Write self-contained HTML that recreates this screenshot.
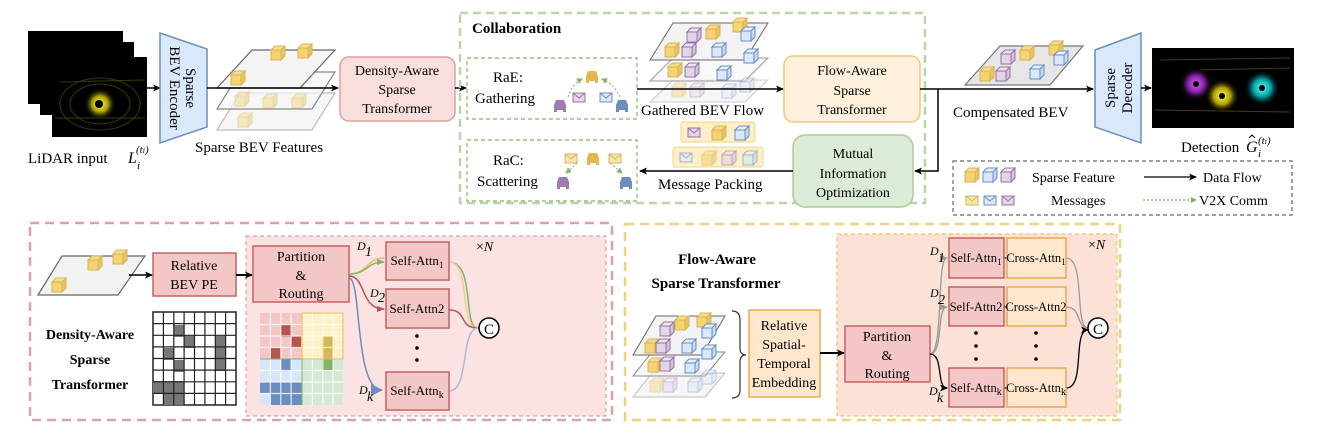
<!DOCTYPE html>
<html><head><meta charset="utf-8"><style>
body{margin:0;background:#fff;}
svg{display:block;font-family:"Liberation Serif",serif;}
</style></head><body>
<svg width="1322" height="442" viewBox="0 0 1322 442" xmlns="http://www.w3.org/2000/svg">
<defs>
<g id="cy"><path d="M0 4 L4 0 L14 0 L10 4Z" fill="#f7dc8c" stroke="#d6b656"/><path d="M10 4 L14 0 L14 10 L10 14Z" fill="#e8c45e" stroke="#d6b656"/><rect x="0" y="4" width="10" height="10" fill="#f5d372" stroke="#d6b656"/></g>
<g id="cb"><path d="M0 4 L4 0 L14 0 L10 4Z" fill="#e6effc" stroke="#6c8ebf"/><path d="M10 4 L14 0 L14 10 L10 14Z" fill="#c5d8f5" stroke="#6c8ebf"/><rect x="0" y="4" width="10" height="10" fill="#dae8fc" stroke="#6c8ebf"/></g>
<g id="cp"><path d="M0 4 L4 0 L14 0 L10 4Z" fill="#eee3f2" stroke="#9673a6"/><path d="M10 4 L14 0 L14 10 L10 14Z" fill="#d3c0dc" stroke="#9673a6"/><rect x="0" y="4" width="10" height="10" fill="#e1d5e7" stroke="#9673a6"/></g>
<g id="env"><rect x="0" y="0" width="12" height="9" fill="#f5e6b0" stroke="#d6b656"/><path d="M0 0 L6 5 L12 0" fill="none" stroke="#d6b656"/></g>
<g id="envb"><rect x="0" y="0" width="12" height="9" fill="#dae8fc" stroke="#6c8ebf"/><path d="M0 0 L6 5 L12 0" fill="none" stroke="#6c8ebf"/></g>
<g id="envp"><rect x="0" y="0" width="12" height="9" fill="#e1d5e7" stroke="#9673a6"/><path d="M0 0 L6 5 L12 0" fill="none" stroke="#9673a6"/></g>
<g id="car"><path d="M1 6 L3 1 L11 1 L13 6 L13 11 L1 11Z" /><rect x="1" y="11" width="3" height="2"/><rect x="10" y="11" width="3" height="2"/></g>
<marker id="ar" markerWidth="8" markerHeight="8" refX="7" refY="4" orient="auto" markerUnits="userSpaceOnUse"><path d="M0 0.5 L8 4 L0 7.5 L2 4Z" fill="#000"/></marker>
<marker id="arg" markerWidth="6" markerHeight="6" refX="5" refY="3" orient="auto" markerUnits="userSpaceOnUse"><path d="M0 0 L6 3 L0 6Z" fill="#82b366"/></marker>
<marker id="arr" markerWidth="8" markerHeight="8" refX="7" refY="4" orient="auto" markerUnits="userSpaceOnUse"><path d="M0 1 L8 4 L0 7Z" fill="#b85450"/></marker>
<marker id="ary" markerWidth="8" markerHeight="8" refX="7" refY="4" orient="auto" markerUnits="userSpaceOnUse"><path d="M0 1 L8 4 L0 7Z" fill="#82b366"/></marker>
<marker id="arb" markerWidth="12" markerHeight="12" refX="11" refY="6" orient="auto" markerUnits="userSpaceOnUse"><path d="M0 0 L12 6 L0 12Z" fill="#6c8ebf"/></marker>
<marker id="argr" markerWidth="8" markerHeight="8" refX="7" refY="4" orient="auto" markerUnits="userSpaceOnUse"><path d="M0 1 L8 4 L0 7Z" fill="#999"/></marker>
<radialGradient id="gy"><stop offset="0" stop-color="#ffff60"/><stop offset="0.5" stop-color="#b0a000"/><stop offset="1" stop-color="#000" stop-opacity="0"/></radialGradient>
<radialGradient id="gp"><stop offset="0" stop-color="#e060ff"/><stop offset="0.5" stop-color="#8020a0"/><stop offset="1" stop-color="#000" stop-opacity="0"/></radialGradient>
<radialGradient id="gc"><stop offset="0" stop-color="#60ffff"/><stop offset="0.5" stop-color="#00a0a0"/><stop offset="1" stop-color="#000" stop-opacity="0"/></radialGradient>
</defs>

<!-- LiDAR -->
<rect x="28" y="31" width="95" height="73" fill="#000"/>
<rect x="40" y="42" width="94" height="73" fill="#000"/>
<rect x="52" y="57" width="95" height="80" fill="#000"/>
<g stroke="#3a3a00" fill="none"><ellipse cx="100" cy="104" rx="30" ry="20"/><ellipse cx="100" cy="104" rx="40" ry="26"/><path d="M60 82 L145 80 M55 118 L145 118"/></g>
<circle cx="100" cy="104" r="16" fill="url(#gy)"/><circle cx="99" cy="104" r="4" fill="#000"/>
<text x="28" y="163" font-size="15">LiDAR input</text>
<text x="128" y="163" font-size="16" font-style="italic">L</text><text x="137" y="169" font-size="11" font-style="italic">i</text><text x="136" y="153" font-size="11" font-style="italic">(t<tspan font-size="8">i</tspan>)</text>
<line x1="147" y1="88" x2="160" y2="88" stroke="#000" stroke-width="1.5" marker-end="url(#ar)"/>
<!-- Encoder -->
<path d="M160 33 L207 49 L207 127 L160 143Z" fill="#dae8fc" stroke="#6c8ebf" stroke-width="1.5"/>
<text transform="translate(186,88) rotate(90)" text-anchor="middle" font-size="15">Sparse</text>
<text transform="translate(170,88) rotate(90)" text-anchor="middle" font-size="15">BEV Encoder</text>
<!-- BEV features -->
<path d="M217 130 L240 93 L335 93 L312 130Z" fill="#f6f6f6" stroke="#bbb" stroke-width="1.2"/>
<path d="M217 109 L240 72 L335 72 L312 109Z" fill="#f6f6f6" fill-opacity="0.7" stroke="#888" stroke-width="1.2"/>
<path d="M217 88 L252 50 L335 50 L300 88Z" fill="#f4f4f4" stroke="#666" stroke-width="1.2"/>
<use href="#cy" x="231" y="71"/><use href="#cy" x="271" y="46"/><use href="#cy" x="298" y="44"/>
<g opacity="0.45"><use href="#cy" x="235" y="92"/><use href="#cy" x="263" y="94"/><use href="#cy" x="292" y="94"/><use href="#cy" x="238" y="113"/></g>
<line x1="207" y1="88" x2="338" y2="88" stroke="#000" stroke-width="1.5" marker-end="url(#ar)"/>
<text x="195" y="152" font-size="15">Sparse BEV Features</text>
<!-- Density box -->
<rect x="340" y="57" width="115" height="64" rx="9" fill="#f9dede" stroke="#dea0a0" stroke-width="1.5"/>
<g font-size="14" text-anchor="middle"><text x="397" y="75">Density-Aware</text><text x="397" y="94">Sparse</text><text x="397" y="113">Transformer</text></g>
<line x1="455" y1="88" x2="466" y2="88" stroke="#000" stroke-width="1.5" marker-end="url(#ar)"/>

<!-- Collaboration -->
<rect x="460" y="13" width="465" height="190" fill="none" stroke="#b9d5a8" stroke-width="2.5" stroke-dasharray="8,5"/>
<text x="472" y="33" font-size="15" font-weight="bold">Collaboration</text>
<rect x="467" y="58" width="170" height="61" fill="none" stroke="#82b366" stroke-width="1.2" stroke-dasharray="4,3"/>
<text x="493" y="82" font-size="15">RaE:</text><text x="475" y="103" font-size="15">Gathering</text>
<use href="#car" x="585" y="70" fill="#e0b84e"/><use href="#car" x="553" y="99" fill="#a07bb0"/><use href="#car" x="615" y="99" fill="#6c8ebf"/>
<use href="#envp" x="573" y="93"/><use href="#envb" x="600" y="93"/>
<g stroke="#82b366" stroke-dasharray="2,2" fill="none"><path d="M568 97 Q572 84 582 79" marker-end="url(#arg)"/><path d="M620 97 Q614 84 602 79" marker-end="url(#arg)"/></g>
<rect x="467" y="140" width="170" height="61" fill="none" stroke="#82b366" stroke-width="1.2" stroke-dasharray="4,3"/>
<text x="493" y="165" font-size="15">RaC:</text><text x="477" y="186" font-size="15">Scattering</text>
<use href="#car" x="586" y="152" fill="#e0b84e"/><use href="#car" x="556" y="176" fill="#a07bb0"/><use href="#car" x="619" y="176" fill="#6c8ebf"/>
<use href="#env" x="565" y="154"/><use href="#env" x="609" y="154"/>
<g stroke="#82b366" stroke-dasharray="2,2" fill="none"><path d="M577 163 Q572 168 566 173" marker-end="url(#arg)"/><path d="M610 163 Q616 168 622 173" marker-end="url(#arg)"/></g>
<!-- Gathered flow -->
<path d="M650 102 L673 80 L768 80 L745 102Z" fill="#f6f6f6" stroke="#ccc"/>
<path d="M650 81 L673 58 L768 58 L745 81Z" fill="#f6f6f6" fill-opacity="0.7" stroke="#999"/>
<path d="M650 60 L673 23 L768 23 L745 60Z" fill="#f3f3f3" stroke="#666"/>
<use href="#cp" x="687" y="28"/><use href="#cy" x="706" y="25"/><use href="#cy" x="733" y="18"/><use href="#cb" x="741" y="27"/>
<use href="#cy" x="665" y="43"/><use href="#cp" x="682" y="43"/><use href="#cb" x="712" y="43"/><use href="#cb" x="744" y="49"/>
<use href="#cy" x="668" y="63"/><use href="#cp" x="685" y="63"/><use href="#cb" x="717" y="66"/>
<g opacity="0.4"><use href="#cy" x="672" y="83"/><use href="#cp" x="690" y="83"/><use href="#cb" x="722" y="84"/><use href="#cb" x="740" y="78"/></g>
<text x="641" y="115" font-size="15">Gathered BEV Flow</text>
<line x1="637" y1="89" x2="783" y2="89" stroke="#000" stroke-width="1.5" marker-end="url(#ar)"/>
<rect x="784" y="56" width="136" height="66" rx="9" fill="#fff0dc" stroke="#f0c878" stroke-width="1.5"/>
<g font-size="14" text-anchor="middle"><text x="852" y="75">Flow-Aware</text><text x="852" y="95">Sparse</text><text x="852" y="114">Transformer</text></g>
<rect x="793" y="135" width="120" height="72" rx="12" fill="#dcebd5" stroke="#a9cd98" stroke-width="1.5"/>
<g font-size="14" text-anchor="middle"><text x="853" y="158">Mutual</text><text x="853" y="178">Information</text><text x="853" y="197">Optimization</text></g>
<path d="M920 89 L1093 89" stroke="#000" stroke-width="1.5" fill="none" marker-end="url(#ar)"/>
<path d="M938 89 L938 171 L915 171" stroke="#000" stroke-width="1.5" fill="none" marker-end="url(#ar)"/>
<line x1="793" y1="171" x2="640" y2="171" stroke="#000" stroke-width="1.5" marker-end="url(#ar)"/>
<rect x="681" y="122" width="74" height="20" rx="2" fill="#fdf0c8" stroke="#f3d58a"/>
<rect x="673" y="147" width="90" height="20" rx="2" fill="#fdf0c8" stroke="#f3d58a"/>
<use href="#envp" x="688" y="128"/><use href="#cy" x="712" y="126"/><use href="#cb" x="735" y="126"/>
<g opacity="0.6"><use href="#envb" x="680" y="153"/><use href="#cy" x="702" y="151"/><use href="#cp" x="722" y="151"/><use href="#cb" x="743" y="151"/></g>
<text x="658" y="189" font-size="15">Message Packing</text>

<!-- Compensated BEV -->
<path d="M965 85 L1000 46 L1083 46 L1050 85Z" fill="#e6e6e6" stroke="#777" stroke-width="1.2"/>
<use href="#cp" x="1001" y="50"/><use href="#cy" x="1020" y="46"/><use href="#cy" x="1049" y="41"/><use href="#cb" x="1054" y="51"/>
<use href="#cy" x="980" y="67"/><use href="#cp" x="996" y="67"/><use href="#cb" x="1030" y="65"/>
<text x="953" y="117" font-size="15">Compensated BEV</text>
<path d="M1095 50 L1141 33 L1141 143 L1095 127Z" fill="#dae8fc" stroke="#6c8ebf" stroke-width="1.5"/>
<text transform="translate(1115,88) rotate(-90)" text-anchor="middle" font-size="15">Sparse</text>
<text transform="translate(1132,88) rotate(-90)" text-anchor="middle" font-size="15">Decoder</text>
<line x1="1141" y1="88" x2="1151" y2="88" stroke="#000" stroke-width="1.5" marker-end="url(#ar)"/>
<rect x="1152" y="48" width="142" height="80" fill="#000"/>
<g stroke="#4a3a10" fill="none"><path d="M1160 60 L1290 58 M1200 70 L1290 68 M1155 110 L1290 112"/></g>
<circle cx="1196" cy="84" r="17" fill="url(#gp)"/><circle cx="1222" cy="96" r="17" fill="url(#gy)"/><circle cx="1262" cy="88" r="18" fill="url(#gc)"/>
<circle cx="1196" cy="84" r="3" fill="#000"/><circle cx="1222" cy="96" r="3" fill="#000"/><circle cx="1262" cy="88" r="3" fill="#000"/>
<text x="1181" y="152" font-size="15">Detection</text>
<text x="1246" y="152" font-size="16" font-style="italic">G</text><path d="M1249 138 L1252 135 L1255 138" stroke="#000" fill="none"/><text x="1258" y="157" font-size="11" font-style="italic">i</text><text x="1258" y="144" font-size="11" font-style="italic">(t<tspan font-size="8">i</tspan>)</text>
<!-- Legend -->
<rect x="953" y="161" width="339" height="54" fill="none" stroke="#666" stroke-width="1.2" stroke-dasharray="4,3"/>
<use href="#cy" x="965" y="168"/><use href="#cb" x="983" y="168"/><use href="#cp" x="1001" y="168"/>
<use href="#env" x="966" y="196"/><use href="#envb" x="984" y="196"/><use href="#envp" x="1002" y="196"/>
<text x="1032" y="182" font-size="14">Sparse Feature</text><text x="1051" y="205" font-size="14">Messages</text>
<line x1="1144" y1="177" x2="1196" y2="177" stroke="#000" stroke-width="1.3" marker-end="url(#ar)"/>
<text x="1203" y="182" font-size="14">Data Flow</text>
<line x1="1143" y1="200" x2="1196" y2="200" stroke="#82b366" stroke-width="1.3" stroke-dasharray="2,2" marker-end="url(#arg)"/>
<text x="1199" y="205" font-size="14">V2X Comm</text>

<!-- Bottom left -->
<rect x="30" y="223" width="582" height="197" fill="none" stroke="#dca3a3" stroke-width="2.5" stroke-dasharray="9,6"/>
<rect x="246" y="236" width="360" height="180" fill="#fbe3e3" stroke="#dca3a3" stroke-width="1.2" stroke-dasharray="4,3"/>
<path d="M38 295 L62 256 L145 256 L118 295Z" fill="#f2f2f2" stroke="#666" stroke-width="1.2"/>
<use href="#cy" x="52" y="278"/><use href="#cy" x="88" y="256"/><use href="#cy" x="113" y="250"/>
<line x1="129" y1="275" x2="152" y2="275" stroke="#000" stroke-width="1.5" marker-end="url(#ar)"/>
<rect x="153" y="253" width="83" height="43" fill="#f4c7c7" stroke="#c46262" stroke-width="1.5"/>
<g font-size="14" text-anchor="middle"><text x="194" y="270">Relative</text><text x="194" y="289">BEV PE</text></g>
<line x1="236" y1="275" x2="252" y2="275" stroke="#000" stroke-width="2" marker-end="url(#ar)"/>
<rect x="253" y="246" width="96" height="56" fill="#f4c7c7" stroke="#c46262" stroke-width="1.5"/>
<g font-size="14" text-anchor="middle"><text x="301" y="261">Partition</text><text x="301" y="280">&amp;</text><text x="301" y="298">Routing</text></g>
<g font-size="14" font-weight="bold" text-anchor="middle"><text x="90" y="339">Density-Aware</text><text x="90" y="364">Sparse</text><text x="90" y="389">Transformer</text></g>
<!-- black grid -->
<g>
<rect x="153" y="312" width="83" height="93" fill="#fff" stroke="#222" stroke-width="1.5"/>
<rect x="174" y="325" width="10" height="12" fill="#777"/><rect x="184" y="336" width="10" height="12" fill="#777"/><rect x="164" y="348" width="10" height="12" fill="#777"/><rect x="174" y="360" width="10" height="12" fill="#777"/>
<rect x="215" y="336" width="10" height="35" fill="#777"/>
<rect x="153" y="381" width="31" height="12" fill="#777"/><rect x="164" y="381" width="20" height="24" fill="#777"/>
<g stroke="#222" stroke-width="1.2"><path d="M163.4 312V405M173.8 312V405M184.1 312V405M194.5 312V405M204.9 312V405M215.3 312V405M225.6 312V405M153 323.6H236M153 335.3H236M153 346.9H236M153 358.5H236M153 370.1H236M153 381.8H236M153 393.4H236"/></g>
</g>
<!-- color grid -->
<g>
<rect x="260" y="313" width="42" height="46" fill="#f4c7c7"/><rect x="302" y="313" width="41" height="46" fill="#fff1c6"/>
<rect x="260" y="359" width="42" height="46" fill="#d7e6fa"/><rect x="302" y="359" width="41" height="46" fill="#d5e8d4"/>
<rect x="281" y="325" width="10" height="12" fill="#b85450"/><rect x="291" y="336" width="10" height="12" fill="#b85450"/><rect x="270" y="348" width="11" height="11" fill="#b85450"/>
<rect x="322" y="336" width="11" height="23" fill="#d6b656"/><rect x="322" y="359" width="11" height="11" fill="#82b366"/>
<rect x="281" y="359" width="10" height="12" fill="#6c8ebf"/><rect x="260" y="382" width="42" height="11" fill="#6c8ebf"/><rect x="270" y="382" width="32" height="23" fill="#6c8ebf"/>
<g stroke="#fff" stroke-opacity="0.8" stroke-width="1.2"><path d="M270.4 313V405M280.8 313V405M291.1 313V405M312.4 313V405M322.8 313V405M333.1 313V405M260 324.5H343M260 336H343M260 347.5H343M260 370.5H343M260 382H343M260 393.5H343"/></g>
<g stroke="#e09090"><path d="M302 313V359"/></g><g stroke="#82b366"><path d="M302 359V405M260 359H343"/></g>
<rect x="302" y="313" width="41" height="46" fill="none" stroke="#e0c060"/>
</g>
<!-- routes -->
<g fill="none" stroke-width="1.5">
<path d="M349 274 C368 274 366 258 384 258" stroke="#e8c060" />
<path d="M349 274 C368 274 366 262 384 262" stroke="#82b366" marker-end="url(#ary)"/>
<path d="M349 276 C366 276 360 309 384 309" stroke="#b85450" marker-end="url(#arr)"/>
<path d="M349 278 C362 278 354 390 382 390" stroke="#6c8ebf" marker-end="url(#arb)"/>
<path d="M449 262 C476 262 462 328 478 328" stroke="#82b366"/>
<path d="M449 262 C472 262 458 328 478 328" stroke="#f0d090"/>
<path d="M449 310 C468 310 458 328 478 328" stroke="#b85450"/>
<path d="M449 391 C470 391 460 328 478 328" stroke="#b0b8d8"/>
</g>
<g font-size="12" font-style="italic"><text x="357" y="250">D</text><text x="365" y="256" font-size="14">1</text><text x="370" y="297">D</text><text x="378" y="302" font-size="14">2</text><text x="359" y="394">D</text><text x="367" y="401" font-size="14">k</text></g>
<g fill="#f4c7c7" stroke="#c46262" stroke-width="1.5"><rect x="386" y="242" width="63" height="38"/><rect x="386" y="289" width="63" height="39"/><rect x="386" y="372" width="63" height="38"/></g>
<g font-size="13" text-anchor="middle"><text x="417" y="265">Self-Attn<tspan font-size="9" dy="3">1</tspan></text><text x="417" y="313">Self-Attn2</text><text x="417" y="395">Self-Attn<tspan font-size="10" dy="3">k</tspan></text></g>
<g fill="#000"><circle cx="417" cy="336" r="1.8"/><circle cx="417" cy="348" r="1.8"/><circle cx="417" cy="360" r="1.8"/></g>
<circle cx="489" cy="328" r="10" fill="#fff" stroke="#000" stroke-width="1.5"/><text x="489" y="334" font-size="15" text-anchor="middle">C</text>
<text x="476" y="251" font-size="14">×<tspan font-style="italic">N</tspan></text>

<!-- Bottom right -->
<rect x="625" y="224" width="495" height="196" fill="none" stroke="#f2d080" stroke-width="2.5" stroke-dasharray="9,6"/>
<rect x="837" y="234" width="280" height="182" fill="#fce2d6" stroke="#f2c070" stroke-width="1.2" stroke-dasharray="4,3"/>
<g font-size="15" font-weight="bold" text-anchor="middle"><text x="717" y="264">Flow-Aware</text><text x="716" y="288">Sparse Transformer</text></g>
<path d="M633 397 L652 373 L725 373 L705 397Z" fill="#f6f6f6" stroke="#bbb"/>
<path d="M633 376 L652 352 L725 352 L705 376Z" fill="#f6f6f6" fill-opacity="0.7" stroke="#888"/>
<path d="M633 355 L656 316 L725 316 L702 355Z" fill="#f3f3f3" stroke="#666"/>
<use href="#cp" x="660" y="322"/><use href="#cy" x="675" y="316"/><use href="#cy" x="697" y="313"/><use href="#cb" x="702" y="324"/>
<use href="#cy" x="645" y="339"/><use href="#cp" x="656" y="339"/><use href="#cb" x="682" y="339"/><use href="#cb" x="702" y="345"/>
<use href="#cy" x="648" y="358"/><use href="#cp" x="660" y="357"/><use href="#cb" x="685" y="359"/>
<g opacity="0.4"><use href="#cy" x="650" y="378"/><use href="#cp" x="663" y="378"/><use href="#cb" x="688" y="378"/><use href="#cb" x="702" y="370"/></g>
<path d="M732 311 Q740 311 740 320 L740 348 Q740 355 746 355 Q740 355 740 362 L740 390 Q740 398 732 398" fill="none" stroke="#333" stroke-width="1.2"/>
<rect x="749" y="310" width="71" height="87" fill="#ffe6cc" stroke="#e8a850" stroke-width="1.5"/>
<g font-size="14" text-anchor="middle"><text x="784" y="330">Relative</text><text x="784" y="349">Spatial-</text><text x="784" y="368">Temporal</text><text x="784" y="387">Embedding</text></g>
<line x1="820" y1="353" x2="844" y2="353" stroke="#000" stroke-width="2" marker-end="url(#ar)"/>
<rect x="845" y="326" width="85" height="56" fill="#f4c7c7" stroke="#c46262" stroke-width="1.5"/>
<g font-size="14" text-anchor="middle"><text x="887" y="341">Partition</text><text x="887" y="360">&amp;</text><text x="887" y="378">Routing</text></g>
<g fill="none" stroke-width="1.3">
<path d="M930 354 C944 354 936 258 947 258" stroke="#999" marker-end="url(#argr)"/>
<path d="M930 354 C944 354 936 307 947 307" stroke="#999" marker-end="url(#argr)"/>
<path d="M930 354 C944 354 936 388 947 388" stroke="#000" marker-end="url(#ar)"/>
<path d="M1066 258 C1086 258 1074 328 1088 328" stroke="#999"/>
<path d="M1066 307 C1082 307 1076 328 1088 328" stroke="#999"/>
<path d="M1066 388 C1086 388 1072 330 1088 330" stroke="#000" marker-end="url(#ar)"/>
<path d="M1004 258H1007M1004 307H1007M1004 388H1007" stroke="#000"/>
</g>
<g font-size="12" font-style="italic"><text x="930" y="255">D</text><text x="938" y="262" font-size="14">1</text><text x="930" y="297">D</text><text x="938" y="304" font-size="14">2</text><text x="929" y="395">D</text><text x="937" y="402" font-size="14">k</text></g>
<g fill="#f4c7c7" stroke="#c46262" stroke-width="1.5"><rect x="949" y="238" width="55" height="40"/><rect x="949" y="287" width="55" height="39"/><rect x="949" y="368" width="55" height="39"/></g>
<g fill="#ffe6cc" stroke="#e8a850" stroke-width="1.5"><rect x="1007" y="238" width="59" height="40"/><rect x="1007" y="287" width="59" height="39"/><rect x="1007" y="368" width="59" height="39"/></g>
<g font-size="12.5" text-anchor="middle"><text x="976" y="262">Self-Attn<tspan font-size="9" dy="3">1</tspan></text><text x="976" y="311">Self-Attn2</text><text x="976" y="392">Self-Attn<tspan font-size="10" dy="3">k</tspan></text>
<text x="1036" y="262">Cross-Attn<tspan font-size="9" dy="3">1</tspan></text><text x="1036" y="311">Cross-Attn2</text><text x="1036" y="392">Cross-Attn<tspan font-size="10" dy="3">k</tspan></text></g>
<g fill="#000"><circle cx="976" cy="333" r="1.8"/><circle cx="976" cy="346" r="1.8"/><circle cx="976" cy="359" r="1.8"/><circle cx="1036" cy="333" r="1.8"/><circle cx="1036" cy="346" r="1.8"/><circle cx="1036" cy="359" r="1.8"/></g>
<circle cx="1098" cy="328" r="10" fill="#fff" stroke="#000" stroke-width="1.5"/><text x="1098" y="334" font-size="15" text-anchor="middle">C</text>
<text x="1088" y="249" font-size="14">×<tspan font-style="italic">N</tspan></text>
</svg>
</body></html>
